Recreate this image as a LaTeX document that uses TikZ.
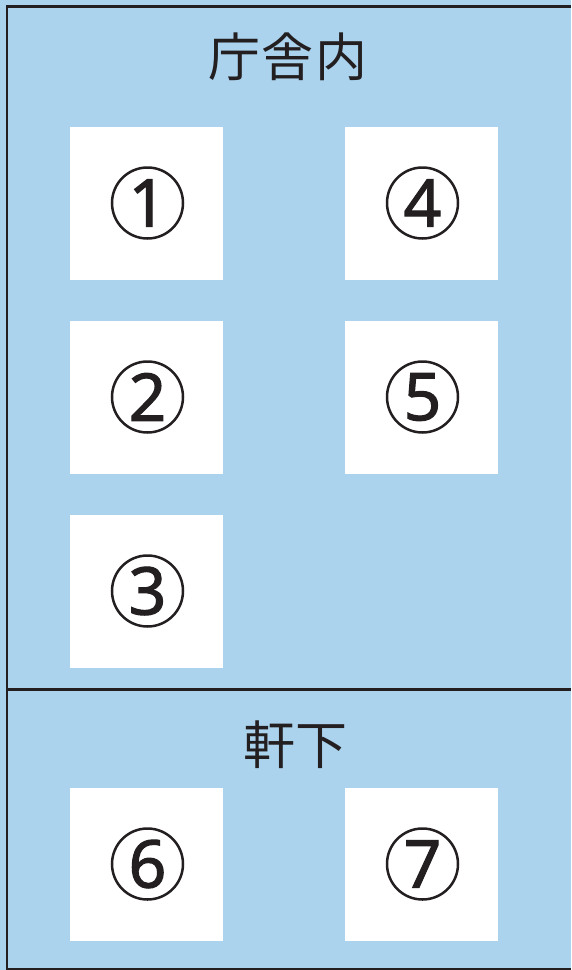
\documentclass[tikz,border=0pt]{standalone}
\usepackage{fontspec}
\newfontfamily\jpfont{Noto Sans CJK JP}
\newfontfamily\numfont{Noto Sans}[FakeBold=1.6]
\definecolor{bgblue}{HTML}{ABD3EE}
\definecolor{ink}{HTML}{231F20}
\begin{document}
\begin{tikzpicture}[x=1pt,y=-1pt,
  card/.style={fill=white,draw=none,minimum width=153pt,minimum height=153pt,inner sep=0pt},
  ring/.style={circle,draw=ink,line width=2.5pt,minimum size=71pt,inner sep=0pt,
    font=\numfont\fontsize{66}{66}\selectfont,text=ink},
  heading/.style={font=\jpfont\fontsize{52}{52}\selectfont,text=ink,inner sep=0pt},
  border/.style={draw=ink,line width=2.5pt}]
\fill[bgblue] (0,0) rectangle (571,970);
\useasboundingbox (0,0) rectangle (571,970);
% borders
\coordinate (tl) at (7,6.5);
\coordinate (tr) at (571,6.5);
\coordinate (bl) at (7,970);
\coordinate (ml) at (7,689.5);
\coordinate (mr) at (571,689.5);
\coordinate (br) at (571,969);
\draw[border] (tr) -- (tl) -- (bl);
\draw[border] (ml) -- (mr);
\draw[border] (7,969) -- (br);
% headings
\node[heading] (h1) at (288,57) {庁\hspace{2pt}舎\hspace{2pt}内};
\node[heading] (h2) at (295,745) {軒下};
% cards
\node[card] (c1) at (146.5,203) {};
\node[card] (c2) at (146.5,397) {};
\node[card] (c3) at (146.5,591) {};
\node[card] (c4) at (421.5,203) {};
\node[card] (c5) at (421.5,397) {};
\node[card] (c6) at (146.5,864) {};
\node[card] (c7) at (421.5,864) {};
% numbers
\foreach \n/\c in {1/c1,2/c2,3/c3,4/c4,5/c5,6/c6,7/c7}{
  \node[ring] (r\n) at ([xshift=1pt]\c.center) {\raisebox{-1pt}{\n}};
}
\end{tikzpicture}
\end{document}
